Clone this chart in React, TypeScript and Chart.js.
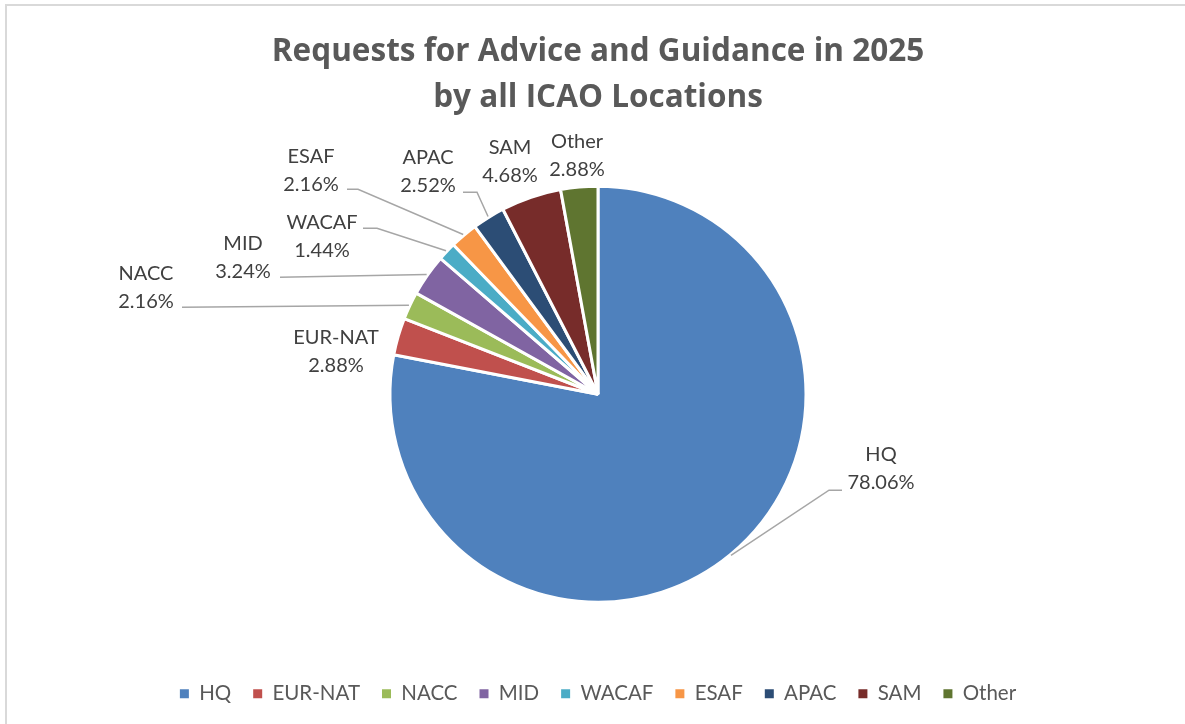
import React, { useEffect, useRef } from "react";
import { Chart, registerables } from "chart.js";

Chart.register(...registerables);

// ---- data ----
const categories = ["HQ", "EUR-NAT", "NACC", "MID", "WACAF", "ESAF", "APAC", "SAM", "Other"];
const shares = [78.06, 2.88, 2.16, 3.24, 1.44, 2.16, 2.52, 4.68, 2.88];
const titleLines = ["Requests for Advice and Guidance in 2025", "by all ICAO Locations"];

// ---- styles ----
const sliceColors = ["#4F81BD", "#C0504D", "#9BBB59", "#8064A2", "#4BACC6", "#F79646", "#2C4D75", "#772C2A", "#5F7530"];

// label placement relative to the pie centre, with optional leader-line elbows
const labelLayout: { dx: number; dy: number; leader?: number[][] }[] = [
  { dx: 283, dy: 60, leader: [[231, 96], [244, 96]] },
  { dx: -262, dy: -57 },
  { dx: -452, dy: -121, leader: [[-416, -87]] },
  { dx: -355, dy: -151, leader: [[-318, -117]] },
  { dx: -276, dy: -172, leader: [[-221, -166], [-235, -166]] },
  { dx: -287, dy: -238, leader: [[-240, -205], [-251, -205]] },
  { dx: -170, dy: -237, leader: [[-121, -202], [-135, -202]] },
  { dx: -88, dy: -247 },
  { dx: -21, dy: -253 },
];

const FONT = "Lato, 'Open Sans', sans-serif";
const TITLE_FONT = "'Open Sans', Lato, sans-serif";

const framePlugin = {
  id: "frame",
  beforeDraw(chart: any) {
    const { ctx, width, height } = chart;
    ctx.save();
    ctx.fillStyle = "#ffffff";
    ctx.fillRect(0, 0, width, height);
    ctx.fillStyle = "#d9d9d9";
    ctx.fillRect(5, 4, width, 2);
    ctx.fillRect(5, 4, 2, height);
    ctx.restore();
  },
};

const labelPlugin = {
  id: "sliceLabels",
  afterDatasetsDraw(chart: any) {
    const { ctx } = chart;
    const meta = chart.getDatasetMeta(0);
    ctx.save();
    meta.data.forEach((arc: any, i: number) => {
      const p = arc.getProps(["x", "y", "startAngle", "endAngle", "outerRadius"], true);
      const lay = labelLayout[i];
      if (!lay) return;
      const mid = (p.startAngle + p.endAngle) / 2;
      if (lay.leader) {
        ctx.beginPath();
        ctx.strokeStyle = "#a6a6a6";
        ctx.lineWidth = 1.5;
        ctx.moveTo(p.x + Math.cos(mid) * (p.outerRadius + 1), p.y + Math.sin(mid) * (p.outerRadius + 1));
        lay.leader.forEach((pt) => ctx.lineTo(p.x + pt[0], p.y + pt[1]));
        ctx.stroke();
      }
      ctx.fillStyle = "#404040";
      ctx.font = `20px ${FONT}`;
      ctx.textAlign = "center";
      ctx.textBaseline = "middle";
      ctx.fillText(categories[i], p.x + lay.dx, p.y + lay.dy);
      ctx.fillText(shares[i].toFixed(2) + "%", p.x + lay.dx, p.y + lay.dy + 28);
    });
    ctx.restore();
  },
};

export default function App() {
  const ref = useRef<HTMLCanvasElement>(null);
  useEffect(() => {
    if (!ref.current) return;
    const defaultGen = (Chart as any).overrides.doughnut.plugins.legend.labels.generateLabels;
    const chart = new Chart(ref.current, {
      type: "pie",
      data: {
        labels: categories,
        datasets: [
          {
            data: shares,
            backgroundColor: sliceColors,
            borderColor: "#ffffff",
            borderWidth: 3,
          },
        ],
      },
      options: {
        responsive: false,
        animation: false,
        devicePixelRatio: 1,
        radius: 208,
        layout: { padding: { left: 11, right: 0, top: 0, bottom: 10 } },
        plugins: {
          tooltip: { enabled: false },
          title: {
            display: true,
            text: titleLines,
            color: "#595959",
            font: { family: TITLE_FONT, size: 31.5, weight: "bold", lineHeight: "46px" },
            padding: { top: 29, bottom: 6 },
          },
          legend: {
            display: true,
            position: "bottom",
            labels: {
              color: "#595959",
              font: { family: FONT, size: 20.5 },
              usePointStyle: true,
              pointStyle: "rect",
              boxWidth: 9,
              boxHeight: 9,
              padding: 22,
              generateLabels: (c: any) =>
                defaultGen(c).map((l: any) => ({ ...l, lineWidth: 0, strokeStyle: l.fillStyle })),
            },
          },
        },
      } as any,
      plugins: [framePlugin, labelPlugin],
    });
    return () => chart.destroy();
  }, []);
  return (
    <div style={{ position: "fixed", left: 0, top: 0, width: 1185, height: 724, overflow: "hidden", background: "#fff" }}>
      <canvas ref={ref} width={1185} height={724} style={{ display: "block" }} />
    </div>
  );
}
